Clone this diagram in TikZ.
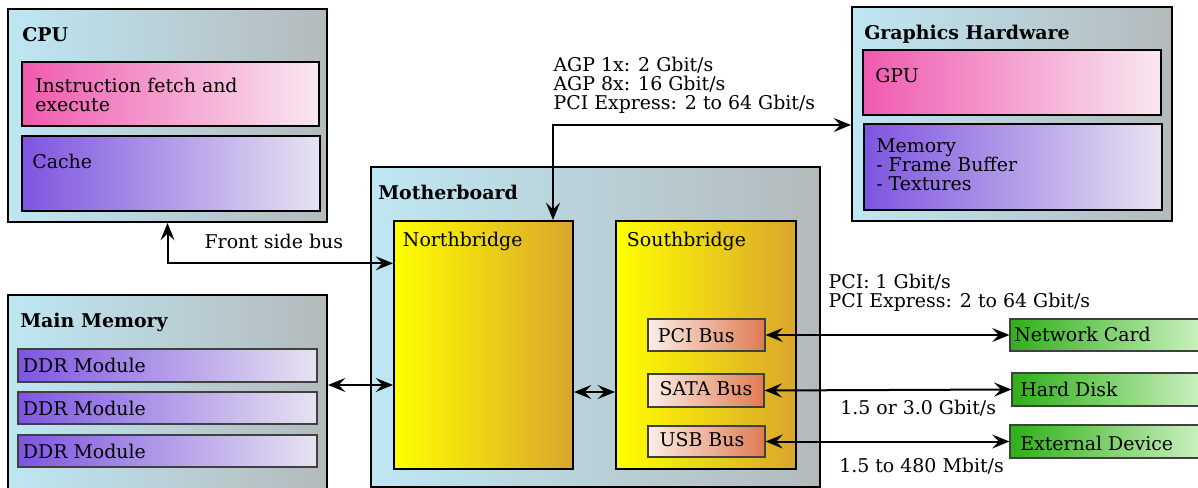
\documentclass[tikz,border=0pt]{standalone}
\usepackage{fontspec}
\setmainfont{DejaVu Serif}
\usepackage{tikz}
\usetikzlibrary{arrows.meta,fit}
\definecolor{SkyL}{HTML}{BEE7F3}
\definecolor{SkyR}{HTML}{B4BABC}
\definecolor{PinkL}{HTML}{F05AAE}
\definecolor{PinkR}{HTML}{F9E8F1}
\definecolor{LilacL}{HTML}{7E55E0}
\definecolor{LilacR}{HTML}{E7E3F1}
\definecolor{YellowL}{HTML}{FFFF00}
\definecolor{YellowR}{HTML}{DAA52C}
\definecolor{SalmonL}{HTML}{F9EEE6}
\definecolor{SalmonR}{HTML}{E07A52}
\definecolor{GreenL}{HTML}{2FAF18}
\definecolor{GreenR}{HTML}{CFF3C4}
\newcommand{\diagfont}{\fontsize{14.2}{14.2}\selectfont}

\begin{document}
\begin{tikzpicture}[x=0.75pt,y=-0.75pt,
    box/.style={inner sep=0pt,line width=1.5pt,draw=black},
    outer/.style={box,left color=SkyL,right color=SkyR},
    cpart/.style={box,left color=PinkL,right color=PinkR},
    mpart/.style={box,left color=LilacL,right color=LilacR},
    bridge/.style={box,left color=YellowL,right color=YellowR},
    thin/.style={inner sep=0pt,line width=0.8pt,draw=black!75},
    ddr/.style={thin,left color=LilacL,right color=LilacR},
    bus/.style={thin,left color=SalmonL,right color=SalmonR},
    dev/.style={thin,left color=GreenL,right color=GreenR},
    lbl/.style={anchor=base west,inner sep=0pt,align=left,font=\diagfont},
    hdr/.style={lbl,font=\diagfont\bfseries},
    a/.style={{Stealth[length=13pt,width=10.5pt,inset=5pt]}-{Stealth[length=13pt,width=10.5pt,inset=5pt]},line width=1.5pt}]
    \useasboundingbox (0,0) rectangle (1198,488);
    % CPU
    \node[outer,fit={(8,9) (327,222)}] (cpu) {};
    \node[cpart,fit={(22,62) (319,126)}] (ifetch) {};
    \node[mpart,fit={(22,136) (320,211)}] (cache) {};
    \node[hdr] (cputxt) at (22,41.5) {CPU};
    \node[lbl] (ifetchtxt) at (35,111.3) {Instruction fetch and\\execute};
    \node[lbl] (cachetxt) at (32,168.3) {Cache};
    % graphics card
    \node[outer,fit={(852,7) (1172,221)}] (gfx) {};
    \node[cpart,fit={(863,50) (1161,115)}] (gpu) {};
    \node[mpart,fit={(864,124) (1162,210)}] (vram) {};
    \node[hdr] (gfxtxt) at (864,39.3) {Graphics Hardware};
    \node[lbl] (gputxt) at (875,82.3) {GPU};
    \node[lbl] (vramtxt) at (876,190.3) {Memory\\- Frame Buffer\\- Textures};
    % motherboard with both bridges
    \node[outer,fit={(371,167) (820,487)}] (mobo) {};
    \node[bridge,fit={(394,221) (573,469)}] (north) {};
    \node[bridge,fit={(616,221) (796,469)}] (south) {};
    \node[bus,fit={(648,319) (765,351)}] (pcibus) {};
    \node[bus,fit={(648,374) (764,407)}] (satabus) {};
    \node[bus,fit={(648,426) (765,457)}] (usbbus) {};
    \node[hdr] (mobotxt) at (378,199.3) {Motherboard};
    \node[lbl] (northtxt) at (402.7,246.7) {Northbridge};
    \node[lbl] (southtxt) at (626.7,246.7) {Southbridge};
    \node[lbl] (pcitxt) at (657.7,342.7) {PCI Bus};
    \node[lbl] (satatxt) at (659.3,395.3) {SATA Bus};
    \node[lbl] (usbtxt) at (659.3,446.7) {USB Bus};
    % main memory
    \node[outer,fit={(8,295) (327,496)}] (mainmem) {};
    \node[ddr,fit={(18,349) (317,382)}] (ddra) {};
    \node[ddr,fit={(18,392) (317,424)}] (ddrb) {};
    \node[ddr,fit={(18,435) (317,467)}] (ddrc) {};
    \node[hdr] (memtxt) at (20,327.3) {Main Memory};
    \node[lbl] (ddratxt) at (22.7,372.7) {DDR Module};
    \node[lbl] (ddrbtxt) at (22.7,415.3) {DDR Module};
    \node[lbl] (ddrctxt) at (22.7,458.3) {DDR Module};
    % devices on the southbridge
    \node[dev,fit={(1010,319) (1206,351)}] (netcard) {};
    \node[dev,fit={(1012,373) (1206,406)}] (hdd) {};
    \node[dev,fit={(1010,425) (1206,458)}] (extdev) {};
    \node[lbl] (nettxt) at (1014,341.7) {Network Card};
    \node[lbl] (hddtxt) at (1020,396.7) {Hard Disk};
    \node[lbl] (exttxt) at (1020,450) {External Device};
    % links
    \coordinate (fsb) at (300,263.3);
    \coordinate (agp) at (553,125);
    \coordinate (memlink) at (360,385);
    \coordinate (nslink) at (595,392);
    \draw[a] (cpu.south) |- (north.west |- fsb);
    \draw[a] (north.north -| agp) |- (gfx.west |- agp);
    \draw[a] (mainmem.east |- memlink) -- (north.west |- memlink);
    \draw[a] (north.east |- nslink) -- (south.west |- nslink);
    \draw[a] (pcibus.east) -- (netcard.west);
    \draw[a] (satabus.east) -- (hdd.west);
    \draw[a] (usbbus.east) -- (extdev.west);
    % bandwidth labels
    \node[lbl] (fsbtxt) at (204.3,248.3) {Front side bus};
    \node[lbl] (agptxt) at (553.3,109.3) {AGP 1x: 2 Gbit/s\\AGP 8x: 16 Gbit/s\\PCI Express: 2 to 64 Gbit/s};
    \node[lbl] (pcirate) at (828.3,307.7) {PCI: 1 Gbit/s\\PCI Express: 2 to 64 Gbit/s};
    \node[lbl] (satarate) at (840,414.3) {1.5 or 3.0 Gbit/s};
    \node[lbl] (usbrate) at (839,472.7) {1.5 to 480 Mbit/s};
\end{tikzpicture}
\end{document}
